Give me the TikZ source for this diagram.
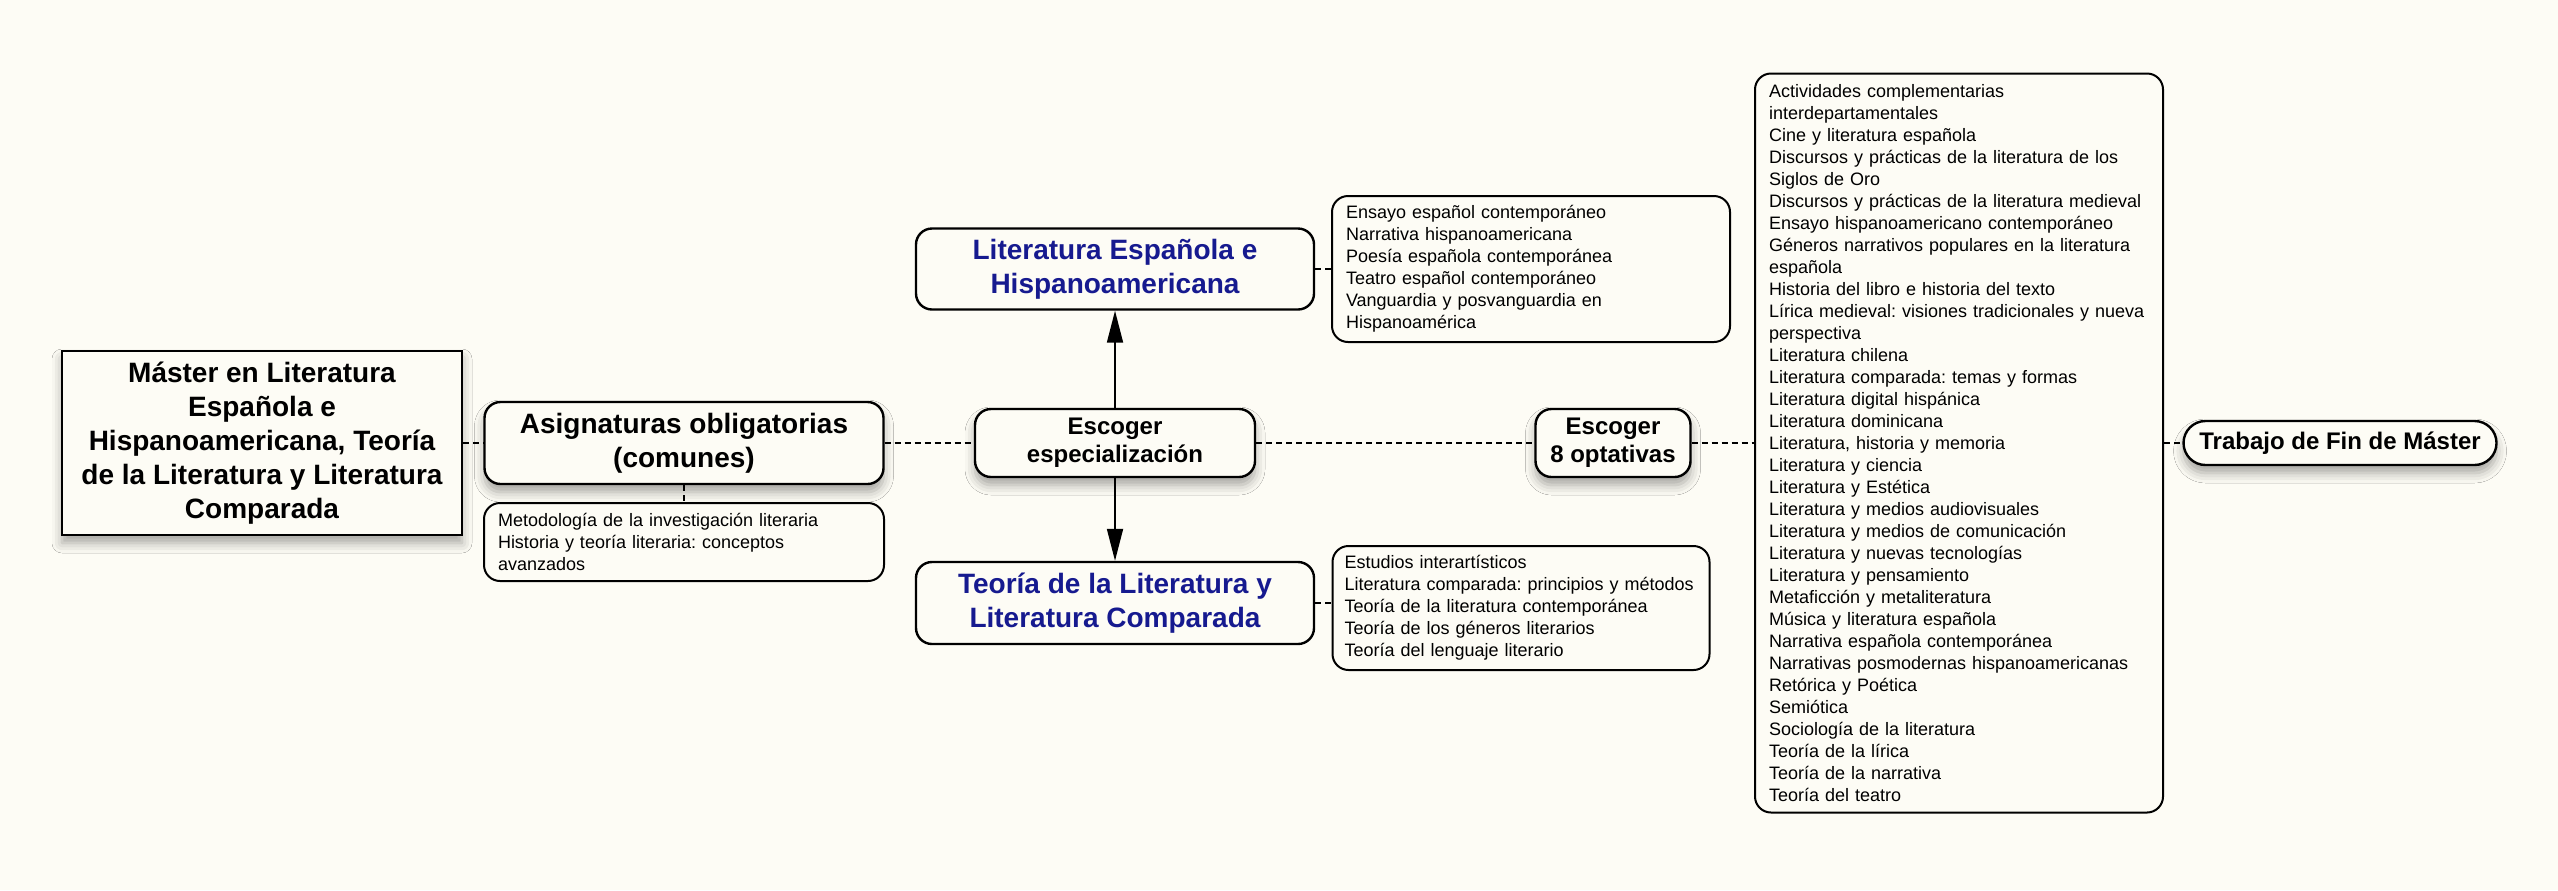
\documentclass[tikz,border=0pt]{standalone}
\usepackage{fontspec}
\setmainfont{Liberation Sans}
\usepackage{xcolor}
\usetikzlibrary{positioning,arrows.meta,shadows.blur}
\definecolor{bgcream}{RGB}{253,252,245}
\definecolor{titleblue}{RGB}{22,26,143}
\frenchspacing

\begin{document}
\begin{tikzpicture}[on grid,
    box/.style={draw,line width=1.2pt,fill=bgcream,inner sep=0pt,align=center},
    soft/.style={blur shadow={shadow xshift=0pt,shadow yshift=-4pt,shadow blur radius=5pt,shadow opacity=35}},
    big/.style={font=\fontsize{14}{17}\selectfont\bfseries},
    mid/.style={font=\fontsize{12}{14}\selectfont\bfseries},
    list/.style={draw,line width=1pt,fill=bgcream,rounded corners=8pt,align=left,
      inner xsep=7pt,inner ysep=2pt,font=\fontsize{9}{11}\selectfont},
    link/.style={line width=0.9pt,dash pattern=on 3pt off 2pt},
    pick/.style={-{Triangle[length=16pt,width=8pt]},line width=0.9pt}]
   \fill[bgcream] (0,0) rectangle (1279pt,-445pt);
   \node[box,soft,big,minimum width=200pt,minimum height=92pt] (mast) at (131pt,-221.5pt)
     {Máster en Literatura\\Española e\\Hispanoamericana, Teoría\\de la Literatura y Literatura\\Comparada};
   \node[box,soft,big,rounded corners=8pt,minimum width=199.5pt,minimum height=41pt] (oblig) [right=211pt of mast]
     {Asignaturas obligatorias\\(comunes)};
   \node[list,text width=186pt,minimum height=39pt] (oblig_l) [below=49.5pt of oblig]
     {Metodología de la investigación literaria\\Historia y teoría literaria: conceptos\\avanzados};
   \node[box,soft,mid,rounded corners=8pt,minimum width=140pt,minimum height=34pt] (esp) [right=215.5pt of oblig]
     {Escoger\\especialización};
   \node[box,big,text=titleblue,rounded corners=8pt,minimum width=199pt,minimum height=40.5pt] (lit_e) [above=87pt of esp]
     {Literatura Española e\\Hispanoamericana};
   \node[box,big,text=titleblue,rounded corners=8pt,minimum width=199pt,minimum height=41pt] (teo) [below=80pt of esp]
     {Teoría de la Literatura y\\Literatura Comparada};
   \node[list,text width=185pt,minimum height=73pt] (lit_e_l) [right=208pt of lit_e]
     {Ensayo español contemporáneo\\Narrativa hispanoamericana\\Poesía española contemporánea\\Teatro español contemporáneo\\Vanguardia y posvanguardia en\\Hispanoamérica};
   \node[list,inner xsep=6pt,text width=176.5pt,minimum height=62pt] (teo_l) [right=203pt of teo,yshift=-2.5pt]
     {Estudios interartísticos\\Literatura comparada: principios y métodos\\Teoría de la literatura contemporánea\\Teoría de los géneros literarios\\Teoría del lenguaje literario};
   \node[box,soft,mid,rounded corners=8pt,minimum width=77.5pt,minimum height=34pt] (opt) [right=249pt of esp]
     {Escoger\\8 optativas};
   \node[list,text width=190pt,minimum height=369.5pt] (opt_l) [right=173pt of opt]
     {Actividades complementarias\\interdepartamentales\\Cine y literatura española\\Discursos y prácticas de la literatura de los\\Siglos de Oro\\Discursos y prácticas de la literatura medieval\\Ensayo hispanoamericano contemporáneo\\Géneros narrativos populares en la literatura\\española\\Historia del libro e historia del texto\\Lírica medieval: visiones tradicionales y nueva\\perspectiva\\Literatura chilena\\Literatura comparada: temas y formas\\Literatura digital hispánica\\Literatura dominicana\\Literatura, historia y memoria\\Literatura y ciencia\\Literatura y Estética\\Literatura y medios audiovisuales\\Literatura y medios de comunicación\\Literatura y nuevas tecnologías\\Literatura y pensamiento\\Metaficción y metaliteratura\\Música y literatura española\\Narrativa española contemporánea\\Narrativas posmodernas hispanoamericanas\\Retórica y Poética\\Semiótica\\Sociología de la literatura\\Teoría de la lírica\\Teoría de la narrativa\\Teoría del teatro};
   \node[box,soft,mid,rounded corners=11pt,minimum width=156.5pt,minimum height=22pt] (tfm) [right=190.5pt of opt_l]
     {Trabajo de Fin de Máster};
   % dashed links
   \draw[link] (mast) -- (oblig);
   \draw[link] (oblig) -- (oblig_l);
   \draw[link] (oblig) -- (esp);
   \draw[link] (esp) -- (opt);
   \draw[link] (opt) -- (opt_l);
   \draw[link] (opt_l) -- (tfm);
   \draw[link] (lit_e) -- (lit_e_l);
   \draw[link] (teo.east) -- (teo.east -| teo_l.west);
   % choice of speciality
   \draw[pick] (esp) -- (lit_e);
   \draw[pick] (esp) -- (teo);
\end{tikzpicture}
\end{document}
